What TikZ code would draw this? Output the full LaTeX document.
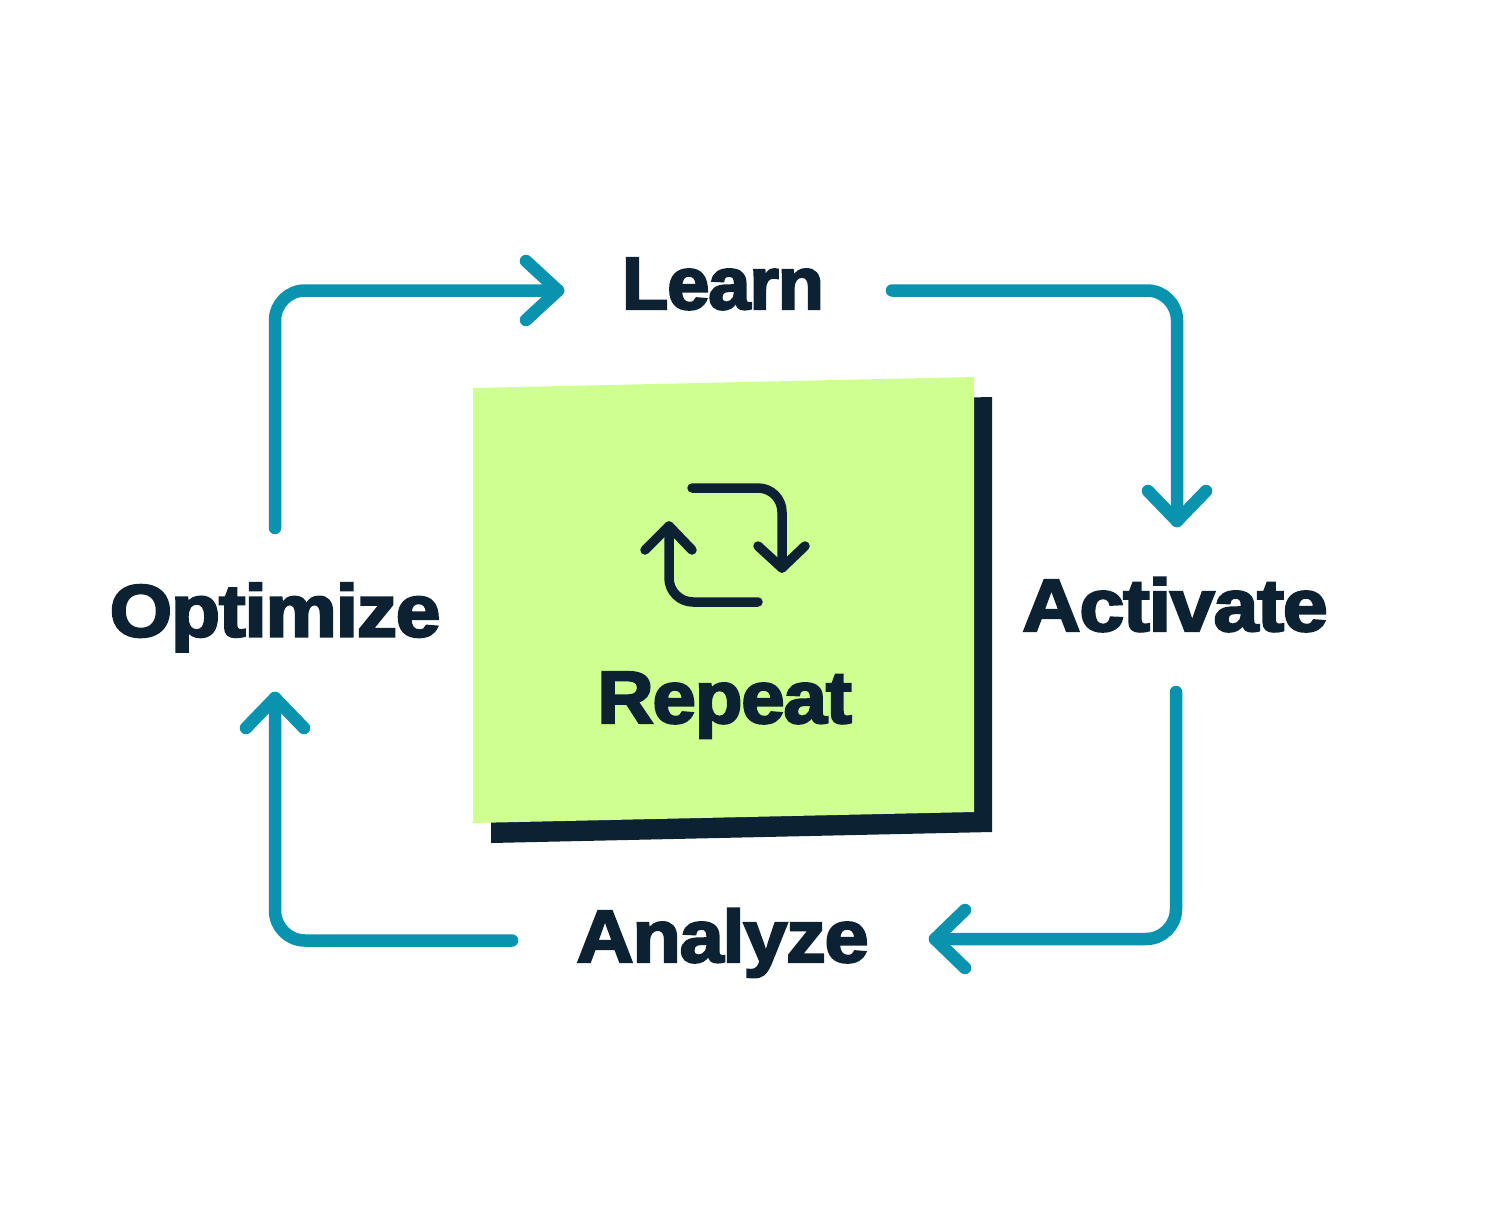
\documentclass[tikz,border=0pt]{standalone}
\usepackage{fontspec}
\setmainfont{Liberation Sans}[BoldFeatures={FakeBold=3,LetterSpace=-1.5}]
\usetikzlibrary{calc}
\definecolor{navy}{HTML}{0C2233}
\definecolor{teal}{HTML}{0A93AE}
\definecolor{lime}{HTML}{CFFF91}
\newcommand{\stretched}[2]{\scalebox{#1}[1]{#2}}
\newcommand{\chevron}[5]{\draw[flowhead] ($(#1)+(#2,#3)$) -- (#1) -- ($(#1)+(#4,#5)$);}
\tikzset{
  lbl/.style={font=\fontsize{74}{74}\selectfont\bfseries, text=navy, inner sep=0pt, anchor=base},
  flow/.style={draw=teal, line width=12.5pt, line cap=round, line join=round, rounded corners=30pt},
  flowhead/.style={draw=teal, line width=12.5pt, line cap=round, line join=round},
  icon/.style={draw=navy, line width=9.5pt, line cap=round, line join=round, rounded corners=24pt},
}
\begin{document}
\begin{tikzpicture}[x=1pt,y=-1pt]
\useasboundingbox (0,0) rectangle (1490,1217);
\fill[white] (0,0) rectangle (1490,1217);
% card
\fill[navy] (491,408) -- (992,397) -- (992,832) -- (491,843) -- cycle;
\fill[lime] (473,388) -- (974,377) -- (974,812) -- (473,823) -- cycle;
% labels
\node[lbl] (learn) at (723,309) {\stretched{1.025}{Learn}};
\node[lbl] (activate) at (1175,631) {\stretched{1.09}{Activate}};
\node[lbl] (analyze) at (722.5,962) {\stretched{1.07}{Analyze}};
\node[lbl] (optimize) at (275,636.5) {\stretched{1.085}{Optimize}};
\node[lbl] (repeat) at (724.5,723) {\stretched{1.055}{Repeat}};
% connector ends
\coordinate (learnOut) at (892,290.5);
\coordinate (activateIn) at (1177,521);
\coordinate (activateOut) at (1176,692);
\coordinate (analyzeIn) at (935,939);
\coordinate (analyzeOut) at (512,940.5);
\coordinate (optimizeIn) at (275,698);
\coordinate (optimizeOut) at (275,528);
\coordinate (learnIn) at (558,290.5);
% connectors
\draw[flow] (learnOut) -- (learnOut -| activateIn) -- (activateIn);
\chevron{activateIn}{-29}{-30}{29}{-30}
\draw[flow] (activateOut) -- (activateOut |- analyzeIn) -- (analyzeIn);
\chevron{analyzeIn}{30}{-29}{30}{29}
\draw[flow] (analyzeOut) -- (analyzeOut -| optimizeIn) -- (optimizeIn);
\chevron{optimizeIn}{-29}{30}{29}{30}
\draw[flow] (optimizeOut) -- (optimizeOut |- learnIn) -- (learnIn);
\chevron{learnIn}{-32}{-29.5}{-32}{29.5}
% icon
\coordinate (i1) at (692,488);
\coordinate (i2) at (782,488);
\coordinate (i3) at (782,568);
\coordinate (i4) at (758,602);
\coordinate (i5) at (669,602);
\coordinate (i6) at (669,526);
\draw[icon] (i1) -- (i2) -- (i3);
\draw[icon] (i4) -- (i5) -- (i6);
\draw[icon,rounded corners=0pt] (758,546) -- (i3) -- (805,546);
\draw[icon,rounded corners=0pt] (645,550) -- (i6) -- (692,550);
\end{tikzpicture}
\end{document}
